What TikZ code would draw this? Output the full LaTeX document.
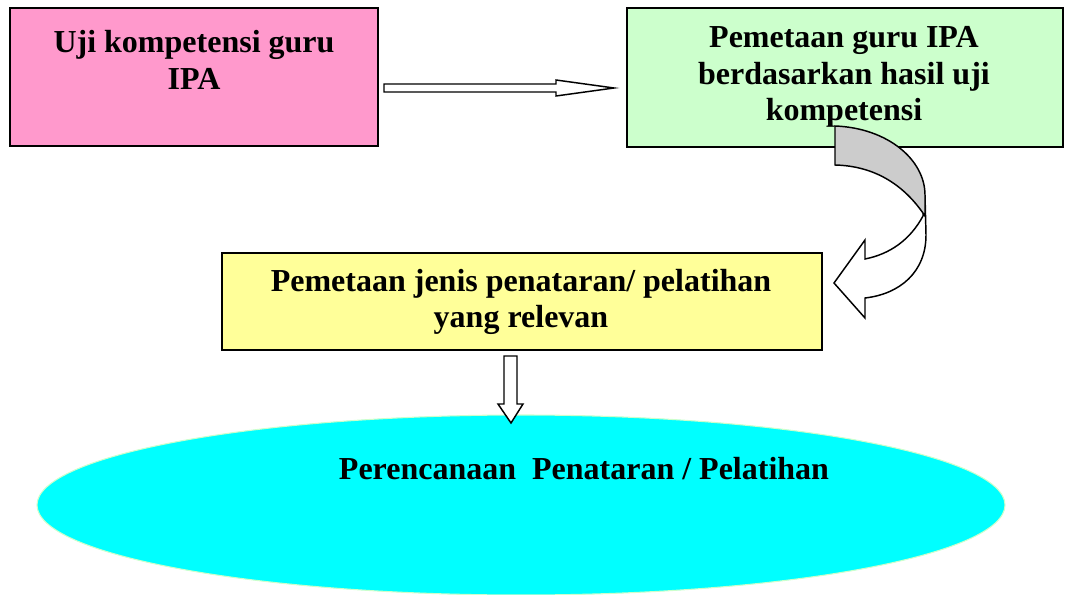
\documentclass[tikz,border=0pt]{standalone}
\usepackage{fontspec}
\setmainfont{Liberation Serif}
\usetikzlibrary{positioning,shapes.geometric,calc}

\definecolor{ujipink}{HTML}{FF99CC}
\definecolor{petagreen}{HTML}{CCFFCC}
\definecolor{jenisyellow}{HTML}{FFFF99}
\definecolor{rencanacyan}{HTML}{00FFFF}
\definecolor{curlgray}{HTML}{CCCCCC}

\tikzset{
    box/.style = {rectangle, draw=black, line width=1.5pt, inner sep=0pt},
    boxtext/.style = {align=center, font=\bfseries\fontsize{24}{27.5}\selectfont, inner sep=0pt},
    hollow/.style = {draw=black, fill=white, line width=1.1pt, line join=miter}
}

\begin{document}
\begin{tikzpicture}[x=0.75pt, y=-0.75pt]
\useasboundingbox (0,0) rectangle (1071,595);

% the three boxes
\node (uji) [box, fill=ujipink, minimum width=276pt, minimum height=103.5pt] at (194,77) {};
\node (peta) [box, fill=petagreen, minimum width=327pt, minimum height=104.25pt] at (845,77.5) {};
\node (jenis) [box, fill=jenisyellow, minimum width=450pt, minimum height=72.75pt] at (522,301.5) {};

% the ellipse at the bottom
\node (rencana) [ellipse, draw=petagreen, line width=0.8pt, fill=rencanacyan, minimum width=726pt, minimum height=135pt, inner sep=0pt] at (521,505) {};

% texts
\node (uji-txt) [boxtext] at (194,60) {Uji kompetensi guru\\IPA};
\node (peta-txt) [boxtext] at (844,77) {Pemetaan guru IPA\\berdasarkan hasil uji\\kompetensi};
\node (jenis-txt) [boxtext] at (521,302) {Pemetaan jenis penataran/ pelatihan\\yang relevan};
\node (rencana-txt) [boxtext] at (584,469) {Perencanaan\ \ Penataran / Pelatihan};

% arrow uji -> peta
\coordinate (go) at ($(uji.east)+(5,11)$);
\draw [hollow] (go) ++(0,-4) -- ++(172,0) -- ++(0,-4) -- ++(58,8) -- ++(-58,8) -- ++(0,-4) -- ++(-172,0) -- cycle;

% curved arrow peta -> jenis
\coordinate (curl) at (835,126);
\draw [hollow] (925,195) -- (926,235) .. controls (926,272) and (900,294) .. (865,298)
    -- (865,318) -- (834,283) -- (865,240) -- (865,259)
    .. controls (890,254) and (910,240) .. (923,216) -- cycle;
\draw [hollow, fill=curlgray] (curl) .. controls (888,128) and (925,160) .. (925,195) -- (925,216)
    .. controls (905,186) and (876,166) .. (835,165) -- cycle;

% arrow jenis -> rencana
\coordinate (down) at ($(jenis.south)+(-12,5)$);
\draw [hollow] (down) ++(-6,0) -- ++(13,0) -- ++(0,48) -- ++(6,0) -- ++(-12,19) -- ++(-13,-19) -- ++(6,0) -- cycle;
\end{tikzpicture}
\end{document}
